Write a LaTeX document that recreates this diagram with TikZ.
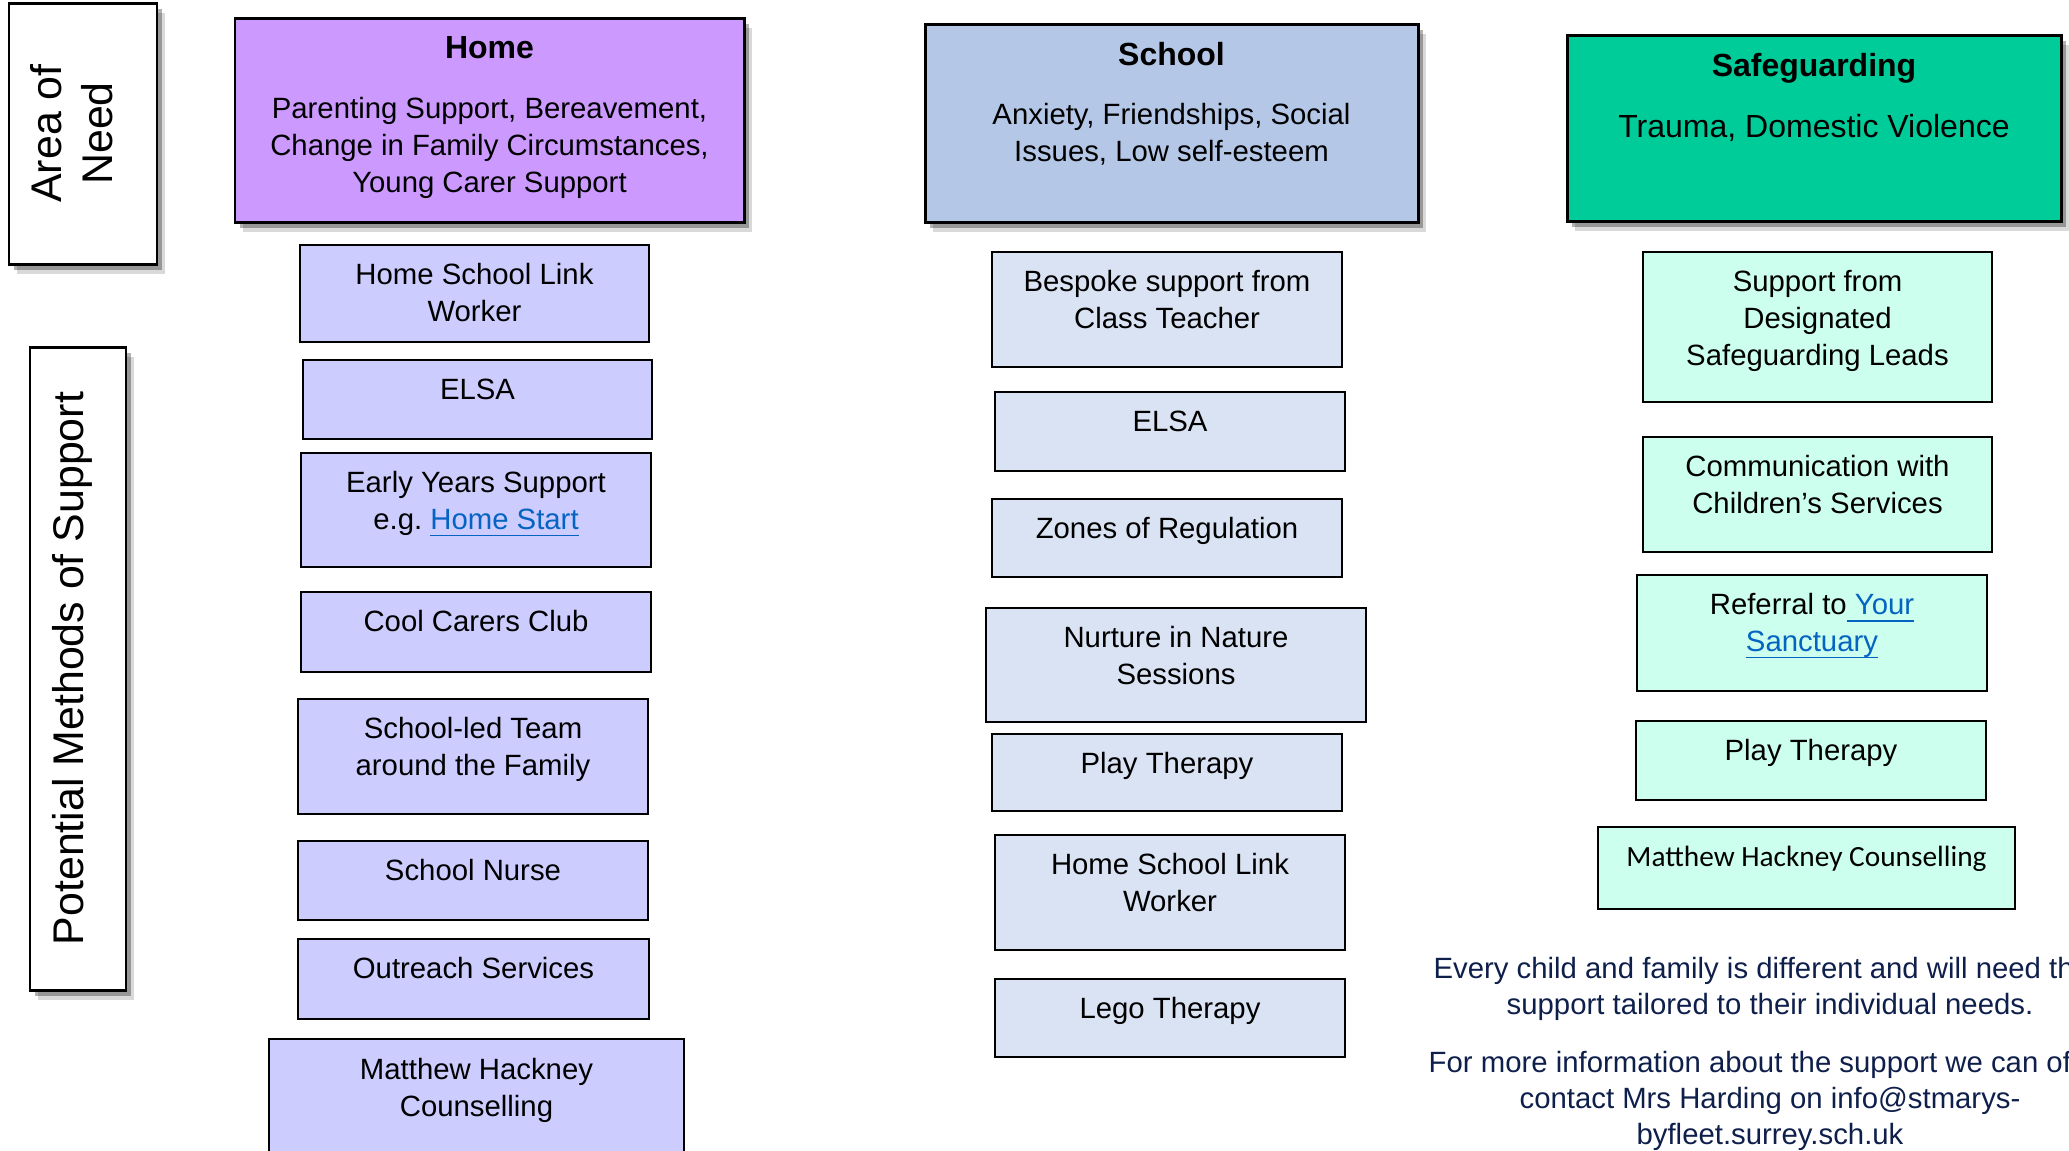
\documentclass[tikz,border=0pt]{standalone}
\usepackage{fontspec}
\setmainfont{Liberation Sans}
\newfontfamily\calibrifont{Carlito}
\usetikzlibrary{fit,positioning,shadows}

\definecolor{homehead}{HTML}{CC99FF}
\definecolor{homeitem}{HTML}{CCCCFF}
\definecolor{schoolhead}{HTML}{B4C7E7}
\definecolor{schoolitem}{HTML}{DAE3F3}
\definecolor{safehead}{HTML}{00CC99}
\definecolor{safeitem}{HTML}{CCFFEE}
\definecolor{linkblue}{HTML}{0563C1}
\definecolor{notecol}{HTML}{0F1F4B}

\newcommand{\weblink}[1]{\textcolor{linkblue}{\setbox0=\hbox{#1}\rlap{\rule[-1.9pt]{\wd0}{0.5pt}}\box0}}

\tikzset{
  softshadow/.style={
    drop shadow={shadow xshift=2.4pt,shadow yshift=-2.8pt,opacity=0.15,fill=black},
    drop shadow={shadow xshift=1.4pt,shadow yshift=-1.7pt,opacity=0.3,fill=black}},
  headbox/.style={draw=black,line width=0.85pt,inner sep=0pt,softshadow},
  sidebox/.style={draw=black,line width=0.85pt,fill=white,inner sep=0pt,softshadow},
  itembox/.style={draw=black,line width=0.65pt,inner sep=0pt},
  headtitle/.style={anchor=north,inner sep=0pt,font=\fontsize{9.1}{10.5}\selectfont\bfseries},
  headbody/.style={anchor=north,align=center,inner sep=0pt,font=\fontsize{8.34}{10.5}\selectfont},
  boxtext/.style={anchor=north,align=center,inner sep=0pt,font=\fontsize{8.34}{10.5}\selectfont},
  sidetext/.style={rotate=90,anchor=north,align=center,inner sep=0pt,font=\fontsize{12.2}{14.6}\selectfont},
  notetext/.style={anchor=north,align=center,inner sep=0pt,text=notecol,font=\fontsize{8.34}{10.1}\selectfont}
}

\begin{document}
\begin{tikzpicture}[x=0.01cm,y=-0.01cm]
\useasboundingbox (0,0) rectangle (2069,1150);
\clip (0,0) rectangle (2069,1150);

% side labels
\node[sidebox,fit={(9,3) (157,264)}] (need) {};
\node[sidetext] (need-t) at ([xshift=0.22cm]need.west) {Area of\\Need};
\node[sidebox,fit={(30,347) (126,990)}] (methods) {};
\node[sidetext] (methods-t) at ([xshift=0.23cm]methods.west) {Potential Methods of Support};

% area of need headers
\node[headbox,fill=homehead,fit={(235,18) (744,222)}] (home) {};
\node[headtitle,below=0.195cm of home.north] (home-t) {Home};
\node[headbody,below=0.80cm of home.north] (home-b) {Parenting Support, Bereavement,\\Change in Family Circumstances,\\Young Carer Support};

\node[headbox,fill=schoolhead,fit={(925,24) (1418,222)}] (school) {};
\node[headtitle,below=0.195cm of school.north] (school-t) {School};
\node[headbody,below=0.80cm of school.north] (school-b) {Anxiety, Friendships, Social\\Issues, Low self-esteem};

\node[headbox,fill=safehead,fit={(1567,35) (2061,221)}] (safe) {};
\node[headtitle,below=0.195cm of safe.north] (safe-t) {Safeguarding};
\node[headbody,font=\fontsize{9.1}{10.5}\selectfont,below=0.80cm of safe.north] (safe-b) {Trauma, Domestic Violence};

% home column
\node[itembox,fill=homeitem,fit={(300,245) (649,342)}] (hlink) {};
\node[boxtext,below=0.19cm of hlink.north] (hlink-t) {Home School Link\\Worker};
\node[itembox,fill=homeitem,fit={(303,360) (652,439)}] (helsa) {};
\node[boxtext,below=0.19cm of helsa.north] (helsa-t) {ELSA};
\node[itembox,fill=homeitem,fit={(301,453) (651,567)}] (hearly) {};
\node[boxtext,below=0.19cm of hearly.north] (hearly-t) {Early Years Support\\e.g.\ \weblink{Home Start}};
\node[itembox,fill=homeitem,fit={(301,592) (651,672)}] (hcarers) {};
\node[boxtext,below=0.19cm of hcarers.north] (hcarers-t) {Cool Carers Club};
\node[itembox,fill=homeitem,fit={(298,699) (648,814)}] (hteam) {};
\node[boxtext,below=0.19cm of hteam.north] (hteam-t) {School-led Team\\around the Family};
\node[itembox,fill=homeitem,fit={(298,841) (648,920)}] (hnurse) {};
\node[boxtext,below=0.19cm of hnurse.north] (hnurse-t) {School Nurse};
\node[itembox,fill=homeitem,fit={(298,939) (649,1019)}] (houtreach) {};
\node[boxtext,below=0.19cm of houtreach.north] (houtreach-t) {Outreach Services};
\node[itembox,fill=homeitem,fit={(269,1039) (684,1170)}] (hmatthew) {};
\node[boxtext,below=0.20cm of hmatthew.north] (hmatthew-t) {Matthew Hackney\\Counselling};

% school column
\node[itembox,fill=schoolitem,fit={(992,252) (1342,367)}] (sbespoke) {};
\node[boxtext,below=0.19cm of sbespoke.north] (sbespoke-t) {Bespoke support from\\Class Teacher};
\node[itembox,fill=schoolitem,fit={(995,392) (1345,471)}] (selsa) {};
\node[boxtext,below=0.19cm of selsa.north] (selsa-t) {ELSA};
\node[itembox,fill=schoolitem,fit={(992,499) (1342,577)}] (szones) {};
\node[boxtext,below=0.19cm of szones.north] (szones-t) {Zones of Regulation};
\node[itembox,fill=schoolitem,fit={(986,608) (1366,722)}] (snurture) {};
\node[boxtext,below=0.19cm of snurture.north] (snurture-t) {Nurture in Nature\\Sessions};
\node[itembox,fill=schoolitem,fit={(992,734) (1342,811)}] (splay) {};
\node[boxtext,below=0.19cm of splay.north] (splay-t) {Play Therapy};
\node[itembox,fill=schoolitem,fit={(995,835) (1345,950)}] (slink) {};
\node[boxtext,below=0.19cm of slink.north] (slink-t) {Home School Link\\Worker};
\node[itembox,fill=schoolitem,fit={(995,979) (1345,1057)}] (slego) {};
\node[boxtext,below=0.19cm of slego.north] (slego-t) {Lego Therapy};

% safeguarding column
\node[itembox,fill=safeitem,fit={(1643,252) (1992,402)}] (gdsl) {};
\node[boxtext,below=0.19cm of gdsl.north] (gdsl-t) {Support from\\Designated\\Safeguarding Leads};
\node[itembox,fill=safeitem,fit={(1643,437) (1992,552)}] (gcomm) {};
\node[boxtext,below=0.19cm of gcomm.north] (gcomm-t) {Communication with\\Children’s Services};
\node[itembox,fill=safeitem,fit={(1637,575) (1987,691)}] (grefer) {};
\node[boxtext,below=0.19cm of grefer.north] (grefer-t) {Referral to\weblink{ Your}\\\weblink{Sanctuary}};
\node[itembox,fill=safeitem,fit={(1636,721) (1986,800)}] (gplay) {};
\node[boxtext,below=0.19cm of gplay.north] (gplay-t) {Play Therapy};
\node[itembox,fill=safeitem,fit={(1598,827) (2015,909)}] (gmatthew) {};
\node[boxtext,font=\calibrifont\fontsize{8.34}{10.5}\selectfont,below=0.20cm of gmatthew.north] (gmatthew-t) {Matthew Hackney Counselling};

% closing note
\node[notetext] (note1) at (1770,957) {Every child and family is different and will need their\\support tailored to their individual needs.};
\node[notetext] (note2) at (1770,1051) {For more information about the support we can offer,\\contact Mrs Harding on info@stmarys-\\byfleet.surrey.sch.uk};
\end{tikzpicture}
\end{document}
